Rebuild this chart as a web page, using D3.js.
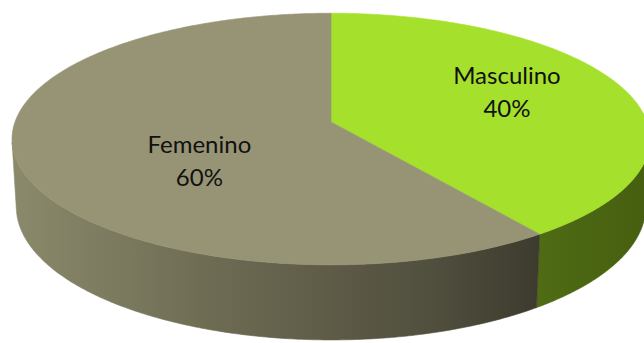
<!DOCTYPE html>
<html>
<head>
<meta charset="utf-8">
<script src="https://cdn.jsdelivr.net/npm/d3@7"></script>
<style>
  html, body { margin: 0; padding: 0; background: #ffffff; }
  svg { display: block; }
</style>
</head>
<body>
<svg id="chart" width="644" height="343"></svg>
<script>
// Gender split shown as a 3D pie
const categories = ["Masculino", "Femenino"];
const values = [40, 60];
const percentLabels = ["40%", "60%"];

// Colours: top face and side wall of each slice
const topColors = ["#a4e02c", "#979475"];
const sideStops = [
  [["0", "#4f6b14"], ["1", "#465f10"]],
  [["0", "#8b896b"], ["0.35", "#6f6d54"], ["0.8", "#504e3d"], ["1", "#3c3b2e"]]
];

// Camera / cylinder geometry (pie radius normalised against camera distance)
const W = 644, H = 343;
const cx = 331, cy = 122;        // screen position of the pie centre
const dist = 1;                  // camera distance
const radius = 0.147;            // pie radius
const thick = 0.0343;            // pie thickness
const focal = 2150;              // projection focal length
const tilt = 23 * Math.PI / 180; // camera elevation
const sinT = Math.sin(tilt), cosT = Math.cos(tilt);

// Perspective projection of a point on the pie (angle clockwise from 12 o'clock)
function project(theta, r, y) {
  const X = r * radius * Math.sin(theta);
  const Z = -r * radius * Math.cos(theta);
  const up = y * cosT - Z * sinT;
  const fwd = y * sinT + Z * cosT;
  const d = dist - fwd;
  return [cx + focal * X / d, cy - focal * up / d];
}

const svg = d3.select("#chart");
const defs = svg.append("defs");

const pie = d3.pie().sort(null).value(d => d).startAngle(0).endAngle(2 * Math.PI);
const arcs = pie(values);

const line = d3.line().x(d => d[0]).y(d => d[1]);

// Side-wall gradients run left to right across the front of the pie
const xLeft = project(-Math.PI / 2, 1, 0)[0];
const xRight = project(Math.PI / 2, 1, 0)[0];
sideStops.forEach((stops, i) => {
  const g = defs.append("linearGradient")
    .attr("id", "side" + i)
    .attr("gradientUnits", "userSpaceOnUse")
    .attr("x1", i === 0 ? project(arcs[0].endAngle, 1, 0)[0] : xLeft)
    .attr("x2", i === 0 ? xRight : project(arcs[1].startAngle, 1, 0)[0])
    .attr("y1", 0).attr("y2", 0);
  stops.forEach(s => g.append("stop").attr("offset", s[0]).attr("stop-color", s[1]));
});

// Outer wall faces the camera where cos(theta) < -radius / (dist * cos(tilt))
const visLimit = Math.acos(-radius / (dist * cosT));
const visStart = visLimit, visEnd = 2 * Math.PI - visLimit;

function sampleAngles(a0, a1) {
  const n = Math.max(2, Math.ceil((a1 - a0) / 0.01));
  return d3.range(n + 1).map(i => a0 + (a1 - a0) * i / n);
}

const walls = svg.append("g");
arcs.forEach((a, i) => {
  const a0 = Math.max(a.startAngle, visStart);
  const a1 = Math.min(a.endAngle, visEnd);
  if (a1 <= a0) return;
  const angles = sampleAngles(a0, a1);
  const topEdge = angles.map(t => project(t, 1, 0));
  const bottomEdge = angles.slice().reverse().map(t => project(t, 1, -thick));
  walls.append("path")
    .attr("d", line(topEdge.concat(bottomEdge)) + "Z")
    .attr("fill", "url(#side" + i + ")")
    .attr("stroke", "url(#side" + i + ")")
    .attr("stroke-width", 0.6);
});

// Top faces
const tops = svg.append("g");
arcs.forEach((a, i) => {
  const pts = [project(0, 0, 0)].concat(
    sampleAngles(a.startAngle, a.endAngle).map(t => project(t, 1, 0)));
  tops.append("path")
    .attr("d", line(pts) + "Z")
    .attr("fill", topColors[i])
    .attr("stroke", topColors[i])
    .attr("stroke-width", 0.6)
    .attr("stroke-linejoin", "round");
});

// Data labels: category name over percentage
const labelPlace = [{ r: 0.6, dy: 0 }, { r: 0.43, dy: 30 }];
const labels = svg.append("g")
  .attr("font-family", "Lato, 'Open Sans', sans-serif")
  .attr("font-size", 24)
  .attr("fill", "#111")
  .attr("text-anchor", "middle");
arcs.forEach((a, i) => {
  const mid = (a.startAngle + a.endAngle) / 2;
  const p = project(mid, labelPlace[i].r, 0);
  const t = labels.append("text")
    .attr("x", p[0])
    .attr("y", p[1] + labelPlace[i].dy);
  t.append("tspan").attr("x", p[0]).attr("dy", -16).text(categories[i]);
  t.append("tspan").attr("x", p[0]).attr("dy", 33).text(percentLabels[i]);
});
</script>
</body>
</html>
